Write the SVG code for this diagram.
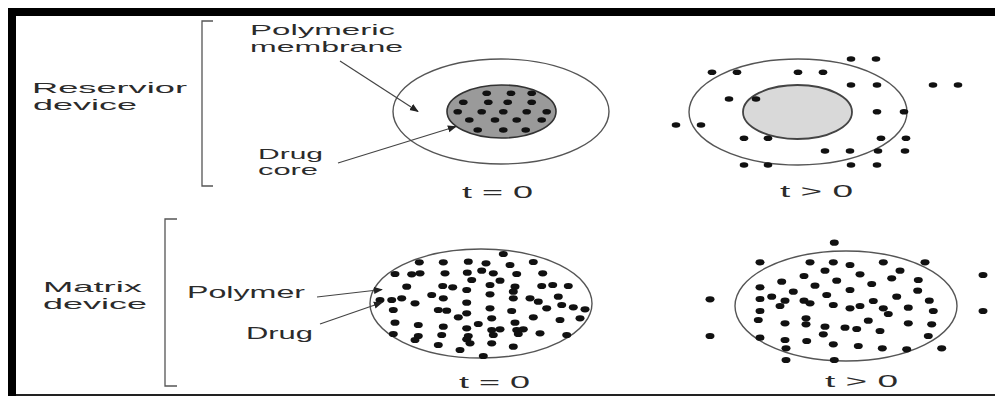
<svg xmlns="http://www.w3.org/2000/svg" xmlns:xlink="http://www.w3.org/1999/xlink" width="995" height="396" viewBox="0 0 995 396">
<style>
.t{font-family:"Liberation Sans",Arial,sans-serif;fill:#2b2b2b;}
.ln{stroke:#444;stroke-width:1.2;fill:none;}
.br{stroke:#555;stroke-width:1.3;fill:none;}
.oe{stroke:#555;stroke-width:1.4;fill:#fff;}
.dt{fill:#111;}
</style>
<defs>
<ellipse id="d" cx="0" cy="0" rx="4.3" ry="2.8"/>
<ellipse id="m" cx="0" cy="0" rx="4.5" ry="3.1"/>
<marker id="ah" viewBox="0 0 10 10" refX="9" refY="5" markerWidth="9" markerHeight="9" markerUnits="userSpaceOnUse" orient="auto">
<path d="M0,1 L10,5 L0,9 z" fill="#222"/>
</marker>
</defs>
<rect x="0" y="0" width="995" height="396" fill="#fff"/>
<g id="frame">
<rect x="8" y="8" width="987" height="8" fill="#000"/>
<rect x="8" y="8" width="8" height="388" fill="#000"/>
<rect x="16" y="394" width="979" height="2" fill="#222"/>
</g>
<g id="brackets">
<path class="br" d="M213,21 H202 V186 H213"/>
<path class="br" d="M177,219 H165 V386 H177"/>
</g>
<g id="labels">
<text class="t" x="32" y="93" font-size="14.5" textLength="155" lengthAdjust="spacingAndGlyphs">Reservior</text>
<text class="t" x="33" y="110" font-size="14.5" textLength="104" lengthAdjust="spacingAndGlyphs">device</text>
<text class="t" x="250" y="35" font-size="14.5" textLength="145" lengthAdjust="spacingAndGlyphs">Polymeric</text>
<text class="t" x="250" y="52" font-size="14.5" textLength="153" lengthAdjust="spacingAndGlyphs">membrane</text>
<text class="t" x="258" y="159" font-size="14" textLength="65" lengthAdjust="spacingAndGlyphs">Drug</text>
<text class="t" x="258" y="175" font-size="14" textLength="60" lengthAdjust="spacingAndGlyphs">core</text>
<text class="t" x="462" y="198" font-size="17" textLength="71" lengthAdjust="spacingAndGlyphs">t = 0</text>
<text class="t" x="780" y="197" font-size="17" textLength="73" lengthAdjust="spacingAndGlyphs">t &gt; 0</text>
<text class="t" x="43" y="292" font-size="14.5" textLength="99" lengthAdjust="spacingAndGlyphs">Matrix</text>
<text class="t" x="43" y="309" font-size="14.5" textLength="104" lengthAdjust="spacingAndGlyphs">device</text>
<text class="t" x="187" y="298" font-size="16" textLength="118" lengthAdjust="spacingAndGlyphs">Polymer</text>
<text class="t" x="246" y="339" font-size="17" textLength="67" lengthAdjust="spacingAndGlyphs">Drug</text>
<text class="t" x="459" y="388" font-size="17" textLength="71" lengthAdjust="spacingAndGlyphs">t = 0</text>
<text class="t" x="825" y="387" font-size="17" textLength="73" lengthAdjust="spacingAndGlyphs">t &gt; 0</text>
</g>
<g id="reservoir-t0">
<ellipse class="oe" cx="501" cy="111.5" rx="108" ry="52.5"/>
<ellipse cx="501.5" cy="111.5" rx="54.5" ry="26.5" fill="#9a9a9a" stroke="#333" stroke-width="1.6"/>
<g class="dt">
<use href="#d" x="486.7" y="93.3"/><use href="#d" x="511" y="93.3"/><use href="#d" x="531.7" y="93.3"/>
<use href="#d" x="463.3" y="102.3"/><use href="#d" x="488.3" y="102.3"/><use href="#d" x="507.7" y="102.3"/><use href="#d" x="531.7" y="102.3"/>
<use href="#d" x="457.7" y="111.7"/><use href="#d" x="481.7" y="111.7"/><use href="#d" x="503.3" y="111.7"/><use href="#d" x="526.7" y="111.7"/><use href="#d" x="546.7" y="111.7"/>
<use href="#d" x="469.3" y="120"/><use href="#d" x="495" y="120"/><use href="#d" x="516.7" y="120"/><use href="#d" x="541.7" y="120"/>
<use href="#d" x="477.7" y="130"/><use href="#d" x="503.3" y="130"/><use href="#d" x="525.7" y="130"/>
</g>
</g>
<g id="reservoir-t1">
<ellipse class="oe" cx="798" cy="112" rx="109" ry="53"/>
<ellipse cx="797.5" cy="112" rx="54.5" ry="27" fill="#d9d9d9" stroke="#444" stroke-width="1.8"/>
<g class="dt">
<use href="#d" x="851" y="59"/><use href="#d" x="876" y="59"/>
<use href="#d" x="712" y="72.3"/><use href="#d" x="737" y="72.3"/><use href="#d" x="798" y="72.3"/><use href="#d" x="823" y="72.3"/>
<use href="#d" x="851" y="85"/><use href="#d" x="877" y="85"/><use href="#d" x="933" y="85"/><use href="#d" x="958" y="85"/>
<use href="#d" x="729" y="99"/><use href="#d" x="756" y="99"/>
<use href="#d" x="877" y="111.7"/><use href="#d" x="904" y="111.7"/>
<use href="#d" x="676" y="125"/><use href="#d" x="701" y="125"/>
<use href="#d" x="744" y="138.3"/><use href="#d" x="768" y="138.3"/><use href="#d" x="881" y="138.3"/><use href="#d" x="906" y="138.3"/>
<use href="#d" x="825" y="151"/><use href="#d" x="850" y="151"/><use href="#d" x="878" y="151"/><use href="#d" x="905" y="151"/>
<use href="#d" x="744" y="165"/><use href="#d" x="768" y="165"/><use href="#d" x="851" y="165"/><use href="#d" x="877" y="165"/>
</g>
</g>
<g id="matrix-t0">
<ellipse class="oe" cx="481" cy="303.5" rx="111" ry="54.5"/>
<g class="dt">
<use href="#m" x="503.3" y="254"/>
<use href="#m" x="419.3" y="262.3"/><use href="#m" x="443.3" y="262.3"/><use href="#m" x="468.3" y="261.7"/><use href="#m" x="486" y="263.3"/><use href="#m" x="510" y="265"/><use href="#m" x="533.3" y="262"/>
<use href="#m" x="395" y="274"/><use href="#m" x="411.7" y="274.3"/><use href="#m" x="420" y="273.3"/><use href="#m" x="445" y="273.3"/><use href="#m" x="467.3" y="272.7"/><use href="#m" x="481.7" y="270.7"/><use href="#m" x="493.3" y="273.3"/><use href="#m" x="516.7" y="274"/><use href="#m" x="542.7" y="273.3"/>
<use href="#m" x="471.7" y="280"/><use href="#m" x="500" y="280.7"/>
<use href="#m" x="406.7" y="286.7"/><use href="#m" x="442.7" y="286"/><use href="#m" x="452.7" y="287.3"/><use href="#m" x="466.7" y="290"/><use href="#m" x="490" y="285"/><use href="#m" x="515" y="286.7"/><use href="#m" x="541.7" y="286"/><use href="#m" x="552.7" y="285"/><use href="#m" x="568.3" y="286"/>
<use href="#m" x="431.7" y="295"/><use href="#m" x="443.3" y="298.3"/><use href="#m" x="490" y="294.3"/><use href="#m" x="513.3" y="291.7"/><use href="#m" x="530" y="298.3"/><use href="#m" x="558.3" y="296.7"/>
<use href="#m" x="380" y="300"/><use href="#m" x="391.7" y="300"/><use href="#m" x="401.7" y="298.3"/><use href="#m" x="415" y="303.3"/><use href="#m" x="466.7" y="302.7"/><use href="#m" x="513.3" y="298.3"/><use href="#m" x="538.3" y="301.7"/><use href="#m" x="561.7" y="305"/><use href="#m" x="573.3" y="307.3"/>
<use href="#m" x="393.3" y="310"/><use href="#m" x="438.3" y="310"/><use href="#m" x="446.7" y="310.7"/><use href="#m" x="466.7" y="313.3"/><use href="#m" x="490" y="308.3"/><use href="#m" x="511.7" y="311"/><use href="#m" x="546.7" y="308.3"/><use href="#m" x="585" y="309.3"/>
<use href="#m" x="458.3" y="317.3"/><use href="#m" x="491.7" y="318.3"/><use href="#m" x="515" y="322.7"/><use href="#m" x="533.3" y="317.3"/><use href="#m" x="560" y="320"/><use href="#m" x="580" y="318.3"/>
<use href="#m" x="395" y="322.7"/><use href="#m" x="418.3" y="325"/><use href="#m" x="443.3" y="326.7"/><use href="#m" x="478.3" y="324"/><use href="#m" x="466.7" y="328.3"/><use href="#m" x="491.7" y="330"/><use href="#m" x="500" y="329.3"/><use href="#m" x="516.7" y="330"/><use href="#m" x="523.3" y="329.3"/>
<use href="#m" x="393.3" y="334"/><use href="#m" x="418.3" y="336"/><use href="#m" x="441.7" y="335"/><use href="#m" x="468.3" y="336"/><use href="#m" x="493.3" y="335"/><use href="#m" x="518.3" y="334"/><use href="#m" x="540" y="333.3"/><use href="#m" x="566.7" y="335"/>
<use href="#m" x="415" y="340"/><use href="#m" x="466.7" y="339.3"/>
<use href="#m" x="438.3" y="345"/><use href="#m" x="470" y="343.3"/><use href="#m" x="491.7" y="343.3"/><use href="#m" x="513.3" y="346.7"/>
<use href="#m" x="460" y="350"/><use href="#m" x="483.3" y="356"/>
</g>
</g>
<g id="matrix-t1">
<ellipse class="oe" cx="846" cy="306" rx="111" ry="55"/>
<g class="dt">
<use href="#m" x="834.3" y="242.7"/>
<use href="#m" x="760" y="262.3"/><use href="#m" x="810" y="262.3"/><use href="#m" x="833.3" y="262.3"/><use href="#m" x="850" y="265"/><use href="#m" x="883.3" y="262.3"/><use href="#m" x="925" y="262.3"/>
<use href="#m" x="825" y="270.7"/><use href="#m" x="860" y="274.3"/><use href="#m" x="900" y="270.7"/><use href="#m" x="804" y="276"/><use href="#m" x="983" y="275"/>
<use href="#m" x="781.7" y="281.7"/><use href="#m" x="836.7" y="280.7"/><use href="#m" x="891.7" y="278.3"/><use href="#m" x="918.3" y="280"/>
<use href="#m" x="760" y="287.3"/><use href="#m" x="815" y="285.7"/><use href="#m" x="871.7" y="284"/>
<use href="#m" x="793.3" y="291.7"/><use href="#m" x="850" y="290"/><use href="#m" x="917.7" y="290.7"/>
<use href="#m" x="710" y="299.3"/><use href="#m" x="760" y="299"/><use href="#m" x="771.7" y="296.7"/><use href="#m" x="785" y="300.7"/><use href="#m" x="804" y="300.7"/><use href="#m" x="826.7" y="295"/><use href="#m" x="896.7" y="296.7"/><use href="#m" x="929.3" y="300.7"/>
<use href="#m" x="780" y="306"/><use href="#m" x="810" y="303.3"/><use href="#m" x="833.3" y="305"/><use href="#m" x="850" y="308.3"/><use href="#m" x="860" y="306"/><use href="#m" x="873.3" y="301"/><use href="#m" x="883.3" y="308.3"/><use href="#m" x="908.3" y="307.7"/>
<use href="#m" x="760" y="311"/><use href="#m" x="888.3" y="314"/><use href="#m" x="933.3" y="311"/><use href="#m" x="983" y="311"/>
<use href="#m" x="758.3" y="320"/><use href="#m" x="785" y="323.3"/><use href="#m" x="806" y="318.3"/><use href="#m" x="806" y="324.3"/><use href="#m" x="868.3" y="320.7"/><use href="#m" x="908.3" y="323.3"/><use href="#m" x="931.7" y="324.3"/>
<use href="#m" x="825" y="326.7"/><use href="#m" x="845" y="327.7"/><use href="#m" x="856.7" y="329"/><use href="#m" x="880" y="331"/>
<use href="#m" x="710" y="336"/><use href="#m" x="760" y="337.7"/><use href="#m" x="785" y="340"/><use href="#m" x="806.7" y="341"/><use href="#m" x="823.3" y="334.3"/><use href="#m" x="833.3" y="344.3"/><use href="#m" x="858.3" y="346"/><use href="#m" x="882.3" y="348.3"/><use href="#m" x="906.7" y="349.3"/><use href="#m" x="928.3" y="336"/><use href="#m" x="941.7" y="348.3"/>
<use href="#m" x="786" y="348.3"/><use href="#m" x="786" y="360"/><use href="#m" x="834.3" y="360"/>
</g>
</g>
<g id="connectors">
<line class="ln" x1="340" y1="61" x2="418" y2="111.5" marker-end="url(#ah)"/>
<line class="ln" x1="338" y1="163" x2="456" y2="126.5" marker-end="url(#ah)"/>
<line class="ln" x1="317" y1="297" x2="382" y2="289.5" marker-end="url(#ah)"/>
<line class="ln" x1="320" y1="324" x2="382" y2="302.5" marker-end="url(#ah)"/>
</g>
</svg>
